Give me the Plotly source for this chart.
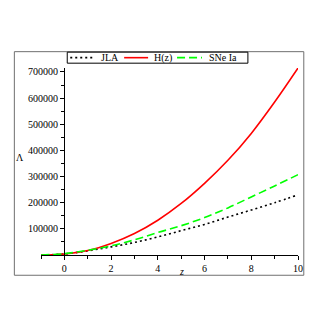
import plotly.graph_objects as go

z = [-1, 0, 1, 2, 3, 4, 5, 6, 7, 8, 9, 10]
jla = [0, 4000, 16000, 31000, 48000, 69000, 93000, 117000, 145000, 172000, 200000, 230000]
hz = [0, 4000, 17000, 44000, 82000, 133000, 197000, 274000, 362000, 465000, 585000, 715000]
sne = [0, 5000, 18000, 35000, 58000, 86000, 112000, 143000, 180000, 222000, 264000, 307000]
series_names = ["JLA", "H(z)", "SNe Ia"]

x_ticks = [0, 2, 4, 6, 8, 10]
y_ticks = [100000, 200000, 300000, 400000, 500000, 600000, 700000]

O = 8  # page body margin
W = H = 311
# plot-area edges in window pixels
L, R, T, B = 40.7, 298.2, 68.3, 254.8
pw, ph = R - L, B - T

def px(p):
    return (p - L) / pw

def py(q):
    return (B - q) / ph

FONT = "Liberation Serif, Times New Roman, serif"
styles = [dict(color="black", width=1.6, dash="2px,3px"),
          dict(color="#ff0000", width=1.6),
          dict(color="#00ff00", width=1.6, dash="8px,4px")]

fig = go.Figure()
for name, ys, st in zip(series_names, [jla, hz, sne], styles):
    fig.add_trace(go.Scatter(x=z, y=ys, name=name, mode="lines", line_shape="spline",
                             line=st, showlegend=False))

shapes = [dict(type="rect", xref="paper", yref="paper",
               x0=px(14), x1=px(304), y0=py(275), y1=py(52),
               line=dict(color="#707070", width=1), layer="below"),
          dict(type="rect", xref="paper", yref="paper",
               x0=px(67), x1=px(248), y0=py(63.5), y1=py(52.5),
               line=dict(color="black", width=1), fillcolor="white")]
annotations = []
sample_x = [(70, 93), (124, 148), (177, 202)]
label_x = [99, 152, 207]
for (a, b), lx, st, name in zip(sample_x, label_x, styles, series_names):
    shapes.append(dict(type="line", xref="paper", yref="paper",
                       x0=px(a), x1=px(b), y0=py(58), y1=py(58),
                       line=dict(color=st["color"], width=1.6, dash=st.get("dash", "solid"))))
    annotations.append(dict(text=name, xref="paper", yref="paper", x=px(lx), y=py(58),
                            xanchor="left", yanchor="middle", showarrow=False,
                            font=dict(family=FONT, size=10)))

annotations += [
    dict(text="Λ", xref="paper", yref="paper", x=px(20), y=py(158),
         xanchor="center", yanchor="middle",
         showarrow=False, font=dict(family=FONT, size=10)),
    dict(text="<i>z</i>", xref="paper", yref="paper", x=px(181), y=py(271.5),
         xanchor="center", yanchor="middle",
         showarrow=False, font=dict(family=FONT, size=10)),
]

fig.update_layout(
    width=W, height=H,
    margin=dict(l=L - O, r=W - (R - O), t=T - O, b=H - (B - O), pad=0, autoexpand=False),
    paper_bgcolor="white", plot_bgcolor="white",
    font=dict(family=FONT, size=10, color="black"),
    showlegend=False,
    xaxis=dict(range=[-1, 10], tickvals=x_ticks, ticktext=[str(v) for v in x_ticks],
               showgrid=False, zeroline=False, showline=True, linecolor="black", linewidth=1,
               ticks="outside", ticklen=4, tickcolor="black", tickwidth=1,
               minor=dict(dtick=1, tick0=-1, ticks="outside", ticklen=3, tickcolor="black"),
               tickfont=dict(family=FONT, size=10)),
    yaxis=dict(range=[0, 715000], tickvals=y_ticks, ticktext=[str(v) for v in y_ticks],
               anchor="free", position=px(63.7),
               showgrid=False, zeroline=False, showline=True, linecolor="black", linewidth=1,
               ticks="outside", ticklen=4, tickcolor="black", tickwidth=1,
               minor=dict(dtick=50000, tick0=0, ticks="outside", ticklen=3, tickcolor="black"),
               tickfont=dict(family=FONT, size=10)),
    shapes=shapes,
    annotations=annotations,
)

fig.write_html("out.html")
